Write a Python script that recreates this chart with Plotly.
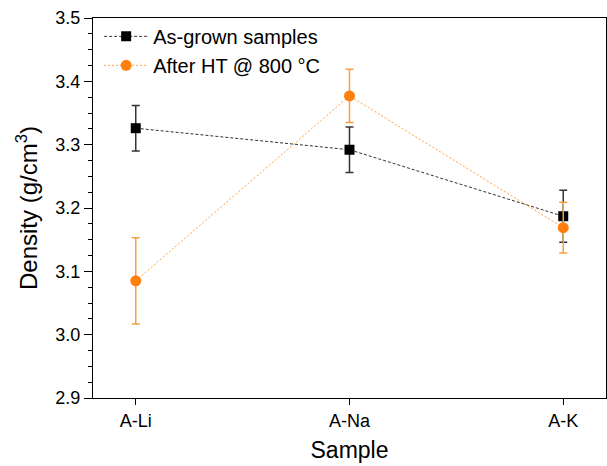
import plotly.graph_objects as go

# Sample categories
samples = ["A-Li", "A-Na", "A-K"]

# Density values (g/cm3) and errors
as_grown = [3.326, 3.292, 3.187]
as_grown_err = [0.036, 0.036, 0.041]
after_ht = [3.085, 3.377, 3.169]
after_ht_err = [0.068, 0.042, 0.040]

black = "#000000"
orange = "#FF7F0E"

fig = go.Figure()

fig.add_trace(go.Scatter(
    x=samples, y=as_grown, name="As-grown samples",
    mode="lines+markers",
    line=dict(color="#333333", width=1, dash="3px,2px"),
    marker=dict(symbol="square", size=10, color=black),
    error_y=dict(type="data", array=as_grown_err, color="#333333", thickness=1.5, width=4),
))

fig.add_trace(go.Scatter(
    x=samples, y=after_ht, name="After HT @ 800 °C",
    mode="lines+markers",
    line=dict(color="#FFA040", width=1, dash="2px,2px"),
    marker=dict(symbol="circle", size=11, color=orange),
    error_y=dict(type="data", array=after_ht_err, color="#F5A040", thickness=1.5, width=4),
))

fig.update_layout(
    width=607, height=466,
    margin=dict(l=93, r=1, t=18, b=68),
    plot_bgcolor="white", paper_bgcolor="white",
    font=dict(family="Liberation Sans, Arial, sans-serif", color="black", size=18),
    showlegend=True,
    legend=dict(x=0.012, y=1.003, xanchor="left", yanchor="top",
                font=dict(size=20), bgcolor="rgba(0,0,0,0)",
                tracegroupgap=0, itemwidth=44),
)

fig.update_xaxes(
    type="category", range=[-0.2, 2.2], automargin=False,
    title=dict(text="Sample", font=dict(size=23), standoff=12),
    showline=True, linecolor="black", linewidth=1.3, mirror=True,
    ticks="outside", ticklen=6, tickcolor="black", tickwidth=1.3,
    showgrid=False, zeroline=False,
)

fig.update_yaxes(
    range=[2.9, 3.5], dtick=0.1, tickformat=".1f", automargin=False,
    title=dict(text="Density (g/cm<sup>3</sup>)", font=dict(size=24), standoff=10),
    showline=True, linecolor="black", linewidth=1.3, mirror=True,
    ticks="outside", ticklen=8, tickcolor="black", tickwidth=1.3,
    minor=dict(dtick=0.025, ticks="outside", ticklen=4, tickcolor="black", tickwidth=1),
    showgrid=False, zeroline=False,
)

# page body has a default margin; drop it so the figure sits at the corner
fig.write_html("out.html", config={"displayModeBar": False},
               post_script="document.body.style.margin='0';")
